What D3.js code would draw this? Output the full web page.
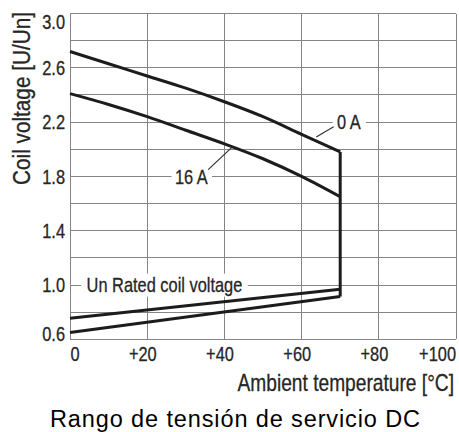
<!DOCTYPE html>
<html>
<head>
<meta charset="utf-8">
<script src="https://cdn.jsdelivr.net/npm/d3@7"></script>
<style>
  html, body { margin: 0; padding: 0; background: #fff; }
  svg { display: block; }
  .cond { font-family: "Liberation Sans", Arial, sans-serif; fill: #262626; stroke: #262626; stroke-width: 0.3; }
  .grid line { stroke: #858585; stroke-width: 1; shape-rendering: crispEdges; }
  .curve { fill: none; stroke: #1c1c1c; stroke-width: 3; stroke-linejoin: miter; }
  .leader { stroke: #333; stroke-width: 1.2; }
</style>
</head>
<body>
<svg id="chart"></svg>
<script>
// Operating voltage range, DC coil: ratio U/Un vs ambient temperature.
const WIDTH = 459;
const HEIGHT = 432;
const M = { top: 13.5, right: 3, bottom: 92.7, left: 70 };
const NARROW = 0.82; // no narrow font installed: squeeze Liberation Sans horizontally

const temps = [0, 10, 20, 30, 40, 50, 60, 70];
const upper0A = [2.72, 2.63, 2.54, 2.45, 2.35, 2.24, 2.11, 1.98];
const upper16A = [2.41, 2.33, 2.24, 2.14, 2.04, 1.93, 1.80, 1.65];
const minTemps = [0, 70];
const minUpper = [0.755, 0.968];
const minLower = [0.65, 0.915];
const limitTemp = 70; // vertical cut-off at the max ambient temperature

const xTicks = [0, 20, 40, 60, 80, 100];
const xTickLabels = ['0', '+20', '+40', '+60', '+80', '+100'];
const yGrid = [0.6, 0.8, 1.0, 1.2, 1.4, 1.6, 1.8, 2.0, 2.2, 2.4, 2.6, 2.8, 3.0];
const yTicks = [0.6, 1.0, 1.4, 1.8, 2.2, 2.6, 3.0];

const svg = d3.select('#chart').attr('width', WIDTH).attr('height', HEIGHT);
const x = d3.scaleLinear().domain([0, 100]).range([M.left, WIDTH - M.right]);
const y = d3.scaleLinear().domain([0.6, 3.0]).range([HEIGHT - M.bottom, M.top]);

// Condensed text: a group placed at (tx, ty), squeezed in x, optional extra transform.
function ctext(parent, tx, ty, str, size, anchor, extra = '', sx = NARROW) {
  const g = parent.append('g').attr('transform', `translate(${tx},${ty}) ${extra} scale(${sx},1)`);
  g.append('text').attr('class', 'cond')
    .attr('text-anchor', anchor)
    .style('font-size', `${size}px`)
    .text(str);
  return g;
}

// Grid (also forms the frame).
const grid = svg.append('g').attr('class', 'grid');
grid.selectAll('line.h').data(yGrid).join('line').attr('class', 'h')
  .attr('x1', x(0)).attr('x2', x(100))
  .attr('y1', (d) => y(d)).attr('y2', (d) => y(d));
grid.selectAll('line.v').data(xTicks).join('line').attr('class', 'v')
  .attr('x1', (d) => x(d)).attr('x2', (d) => x(d))
  .attr('y1', y(0.6)).attr('y2', y(3.0));

// Tick labels.
const yAxis = svg.append('g');
yTicks.forEach((d) => {
  const ty = Math.min(Math.max(y(d), y(3.0) + 8), y(0.6) - 5.5);
  ctext(yAxis, M.left - 5, ty + 7.2, d.toFixed(1), 20, 'end');
});
const xAxis = svg.append('g');
xTicks.forEach((d, i) => {
  ctext(xAxis, Math.min(x(d) + 9.5, x(100)), y(0.6) + 21.5, xTickLabels[i], 20, 'end');
});

// Curves.
const smooth = d3.line().x((d) => x(d[0])).y((d) => y(d[1])).curve(d3.curveMonotoneX);
const straight = d3.line().x((d) => x(d[0])).y((d) => y(d[1]));
const curves = svg.append('g');
curves.append('path').attr('class', 'curve').attr('d', smooth(d3.zip(temps, upper0A)));
curves.append('path').attr('class', 'curve').attr('d', smooth(d3.zip(temps, upper16A)));
curves.append('path').attr('class', 'curve').attr('d', straight(d3.zip(minTemps, minUpper)));
curves.append('path').attr('class', 'curve').attr('d', straight(d3.zip(minTemps, minLower)));
curves.append('path').attr('class', 'curve')
  .attr('d', straight([[limitTemp, upper0A[upper0A.length - 1]], [limitTemp, minLower[minLower.length - 1]]]));

// In-plot labels, with a white box cutting the grid behind them.
function label(str, tx, ty, padX, padY) {
  const g = ctext(svg, tx, ty + 7.2, str, 20, 'start');
  const b = g.select('text').node().getBBox();
  g.insert('rect', 'text')
    .attr('x', b.x - padX / NARROW).attr('y', b.y - padY)
    .attr('width', b.width + 2 * padX / NARROW).attr('height', b.height + 2 * padY)
    .attr('fill', '#fff');
}
label('0 A', x(69.2), y(2.2), 4.5, 0);
label('16 A', x(27.2), y(1.8), 3.5, 0);
label('Un Rated coil voltage', x(4.3), y(1.0), 5.5, 0);

// Leader lines from labels to their curves.
svg.append('line').attr('class', 'leader')
  .attr('x1', x(68.3)).attr('y1', y(2.165))
  .attr('x2', x(63.8)).attr('y2', y(2.09));
svg.append('line').attr('class', 'leader')
  .attr('x1', x(35.8)).attr('y1', y(1.85))
  .attr('x2', x(41.8)).attr('y2', y(2.01));

// Axis titles.
ctext(svg, 30, 98.5, 'Coil voltage [U/Un]', 24, 'middle', 'rotate(-90)', 0.865);
ctext(svg, x(100) - 2, y(0.6) + 52, 'Ambient temperature [°C]', 23.4, 'end');

svg.append('text')
  .attr('x', 50).attr('y', 427)
  .attr('textLength', 370).attr('lengthAdjust', 'spacing')
  .style('font-family', '"Liberation Sans", Arial, sans-serif')
  .style('font-size', '23.5px')
  .attr('fill', '#000')
  .text('Rango de tensión de servicio DC');
</script>
</body>
</html>
